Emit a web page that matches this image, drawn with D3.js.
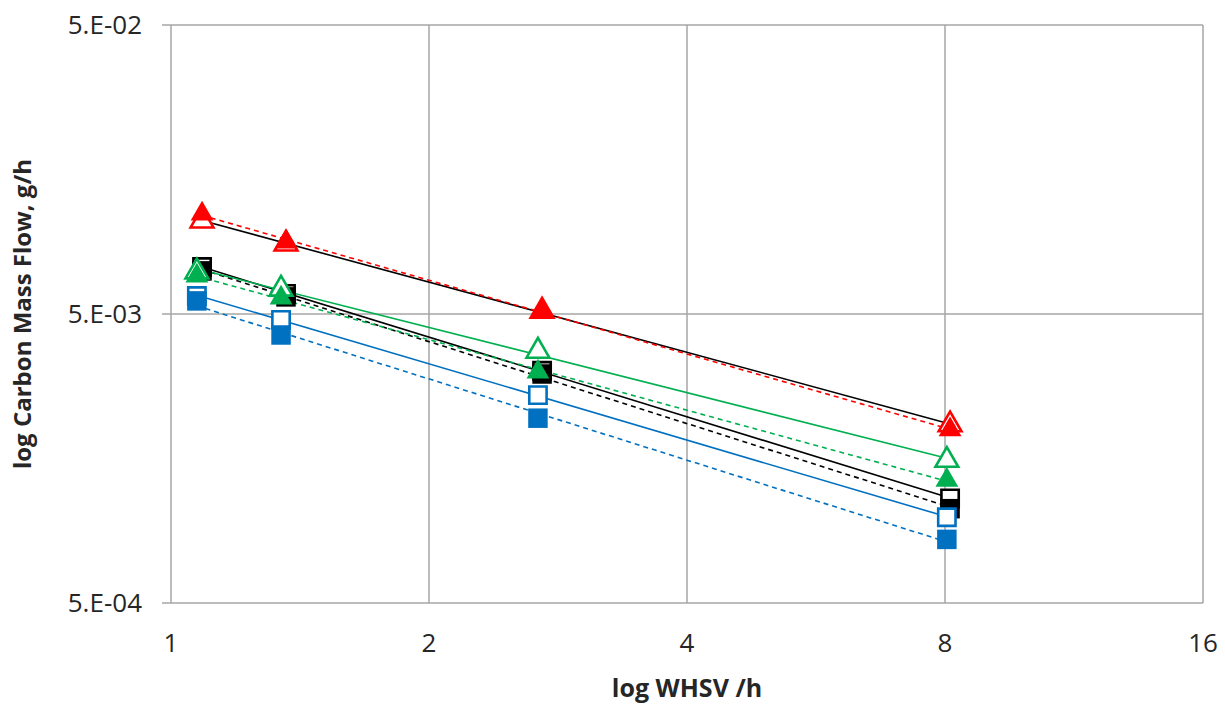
<!DOCTYPE html>
<html lang="en">
<head>
<meta charset="utf-8">
<title>log Carbon Mass Flow vs log WHSV</title>
<script src="https://cdn.jsdelivr.net/npm/d3@7/dist/d3.min.js"></script>
<style>
  body { margin: 0; background: #fff; }
  text { font-family: "Open Sans", "Noto Sans", sans-serif; fill: #262626; }
</style>
</head>
<body>
<svg width="1225" height="704"></svg>
<script>
// WHSV values (1/h) for each group of runs
var whsvA = [1.087, 1.362, 2.71, 8.11];   // red and black series
var whsvB = [1.072, 1.344, 2.68, 8.04];   // green and blue series

// carbon mass flow, g/h
var redOpen     = [0.0105, 0.00874, 0.00512, 0.00207];
var redFilled   = [0.0111, 0.00888, 0.00512, 0.00199];
var greenOpen   = [0.00700, 0.00610, 0.00372, 0.00156];
var greenFilled = [0.00677, 0.00568, 0.00315, 0.00133];
var blackOpen   = [0.00727, 0.00587, 0.00318, 0.00115];
var blackFilled = [0.00705, 0.00573, 0.00310, 0.00106];
var blueOpen    = [0.00577, 0.00477, 0.00262, 0.00099];
var blueFilled  = [0.00555, 0.00423, 0.00218, 0.00083];

var xTicks = [1, 2, 4, 8, 16];
var yTicks = [5e-4, 5e-3, 5e-2];

var series = [
  { x: whsvA, y: redOpen,     color: "#FF0000", shape: "tri", open: true,  trend: "#000000", dash: null },
  { x: whsvA, y: redFilled,   color: "#FF0000", shape: "tri", open: false, trend: "#FF0000", dash: "5,4" },
  { x: whsvA, y: blackOpen,   color: "#000000", shape: "sq",  open: true,  trend: "#000000", dash: null },
  { x: whsvA, y: blackFilled, color: "#000000", shape: "sq",  open: false, trend: "#000000", dash: "5,4" },
  { x: whsvB, y: greenOpen,   color: "#00B050", shape: "tri", open: true,  trend: "#00B050", dash: null },
  { x: whsvB, y: greenFilled, color: "#00B050", shape: "tri", open: false, trend: "#00B050", dash: "5,4" },
  { x: whsvB, y: blueOpen,    color: "#0070C0", shape: "sq",  open: true,  trend: "#0070C0", dash: null },
  { x: whsvB, y: blueFilled,  color: "#0070C0", shape: "sq",  open: false, trend: "#0070C0", dash: "5,4" }
];

var svg = d3.select("svg"),
    plotL = 171, plotR = 1203, plotT = 25, plotB = 603;

var xScale = d3.scaleLog().base(2).domain([1, 16]).range([plotL, plotR]);
var yScale = d3.scaleLog().domain([5e-4, 5e-2]).range([plotB, plotT]);

var grid = "#A6A6A6";

// gridlines
svg.append("g").selectAll("line").data(xTicks).enter().append("line")
  .attr("x1", function(d) { return xScale(d); }).attr("x2", function(d) { return xScale(d); })
  .attr("y1", plotT).attr("y2", plotB)
  .attr("stroke", grid).attr("stroke-width", 1.5);
svg.append("g").selectAll("line").data(yTicks).enter().append("line")
  .attr("x1", plotL - 9).attr("x2", plotR)
  .attr("y1", function(d) { return yScale(d); }).attr("y2", function(d) { return yScale(d); })
  .attr("stroke", grid).attr("stroke-width", 1.5);

// tick labels
svg.append("g").selectAll("text").data(yTicks).enter().append("text")
  .attr("x", 142).attr("y", function(d) { return yScale(d); })
  .attr("dy", "0.36em").attr("text-anchor", "end")
  .style("font-size", "26px")
  .text(function(d) { return d.toExponential(0).replace("e", ".E").replace("-", "-0"); });

svg.append("g").selectAll("text").data(xTicks).enter().append("text")
  .attr("x", function(d) { return xScale(d); }).attr("y", 652)
  .attr("text-anchor", "middle")
  .style("font-size", "26px")
  .text(function(d) { return d; });

// axis titles
svg.append("text")
  .attr("x", 687).attr("y", 697).attr("text-anchor", "middle")
  .style("font-size", "25px").style("font-weight", "bold")
  .text("log WHSV /h");
svg.append("text")
  .attr("transform", "translate(31," + ((plotT + plotB) / 2) + ") rotate(-90)")
  .attr("text-anchor", "middle")
  .style("font-size", "24px").style("font-weight", "bold")
  .text("log Carbon Mass Flow, g/h");

// power trendlines (least squares in log-log space)
function powerFit(xs, ys) {
  var lx = xs.map(Math.log), ly = ys.map(Math.log);
  var mx = d3.mean(lx), my = d3.mean(ly);
  var b = d3.sum(lx, function(v, i) { return (v - mx) * (ly[i] - my); }) /
          d3.sum(lx, function(v) { return (v - mx) * (v - mx); });
  var a = my - b * mx;
  return function(x) { return Math.exp(a + b * Math.log(x)); };
}

var trends = svg.append("g");
series.forEach(function(s) {
  var f = powerFit(s.x, s.y);
  var x0 = d3.min(s.x), x1 = d3.max(s.x);
  trends.append("line")
    .attr("x1", xScale(x0)).attr("y1", yScale(f(x0)))
    .attr("x2", xScale(x1)).attr("y2", yScale(f(x1)))
    .attr("stroke", s.trend).attr("stroke-width", 1.6)
    .attr("stroke-dasharray", s.dash);
});

// markers
var tri = d3.symbol().type(d3.symbolTriangle).size(225);
var sqFilled = d3.symbol().type(d3.symbolSquare).size(380);
var sqOpen = d3.symbol().type(d3.symbolSquare).size(300);
var marks = svg.append("g");
series.forEach(function(s) {
  var pts = s.x.map(function(x, i) { return [x, s.y[i]]; });
  marks.append("g").selectAll("path").data(pts).enter().append("path")
    .attr("transform", function(d) { return "translate(" + xScale(d[0]) + "," + yScale(d[1]) + ")"; })
    .attr("d", s.shape === "tri" ? tri : (s.open ? sqOpen : sqFilled))
    .attr("fill", s.open ? "#fff" : s.color)
    .attr("stroke", s.color)
    .attr("stroke-width", s.open ? 2.6 : 0);
});
</script>
</body>
</html>
